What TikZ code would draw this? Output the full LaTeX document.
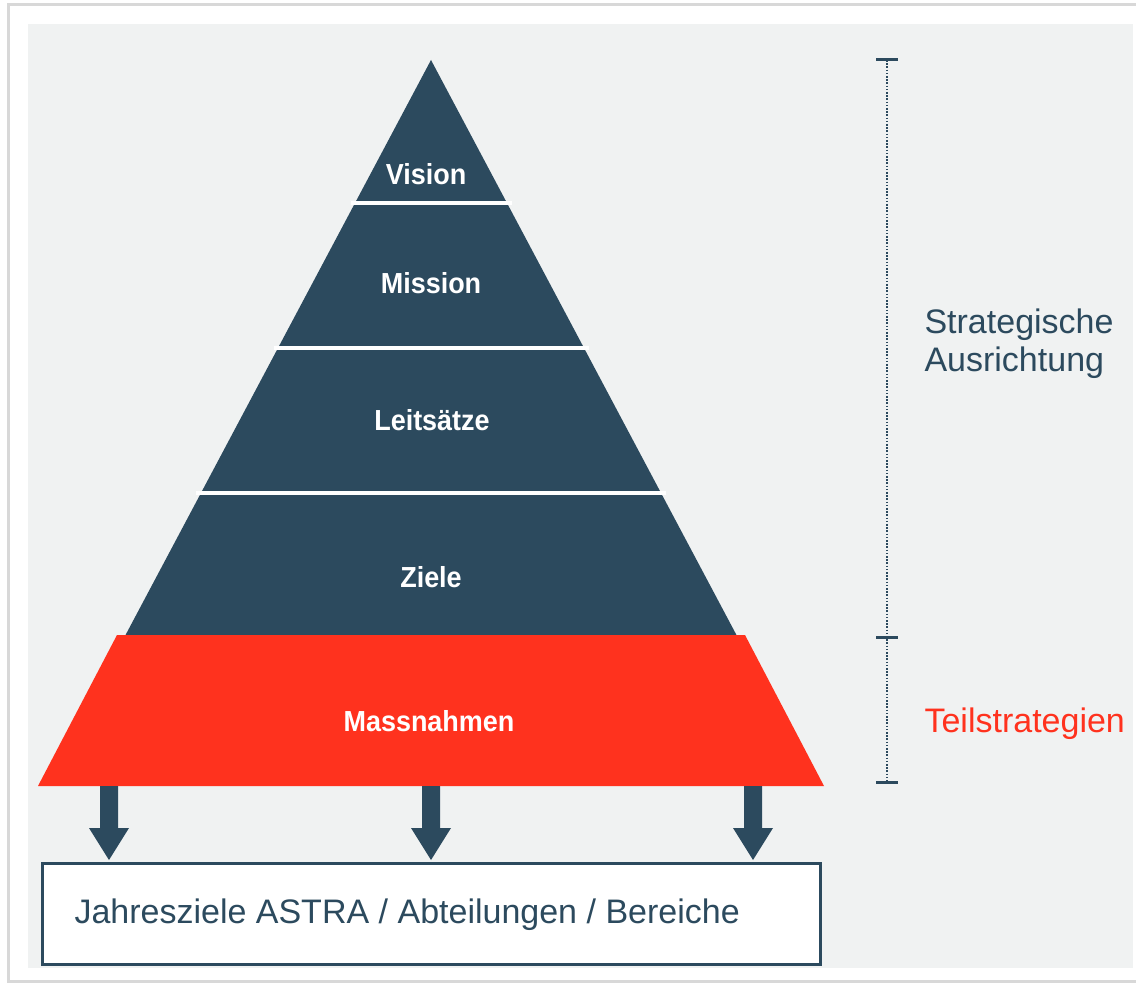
\documentclass[tikz,border=0pt]{standalone}
\usepackage{fontspec}
\setmainfont{Liberation Sans}
\newfontfamily\narrowbold[FakeStretch=0.93]{Liberation Sans Bold}
\definecolor{navy}{HTML}{2C4A5E}
\definecolor{redb}{HTML}{FF321E}
\definecolor{bggray}{HTML}{F0F2F2}
\definecolor{shadow}{HTML}{D8D8D8}
\begin{document}
\begin{tikzpicture}[x=1pt,y=-1pt,
  lvl/.style={text=white,font=\fontsize{29}{32}\narrowbold},
  side/.style={anchor=west,align=left,font=\fontsize{34}{38}\selectfont},
  sep/.style={white,line width=4pt},
  tick/.style={navy,line width=3pt},
  dotline/.style={navy,line width=2.5pt,dash pattern=on 1.6pt off 1.6pt},
  bigarrow/.style={fill=navy,draw=none}]
\useasboundingbox (0,0) rectangle (1136,984);
\fill[white] (0,0) rectangle (1136,984);
% frame with shadow
\fill[shadow] (7,3) rectangle (1136,983);
\fill[white] (10,6) rectangle (1136,980);
\fill[bggray] (28,24) rectangle (1133,968);
% pyramid
\fill[navy] (431,60) -- (737,636) -- (125,636) -- cycle;
\draw[sep] (351,203) -- (512,203);
\draw[sep] (274,348) -- (589,348);
\draw[sep] (196,493) -- (666,493);
\fill[redb] (117,635) -- (745,635) -- (824,786) -- (38,786) -- cycle;
% labels
\node[lvl] (vision) at (426,174) {Vision};
\node[lvl] (mission) at (431,283) {Mission};
\node[lvl] (leit) at (432,420) {Leitsätze};
\node[lvl] (ziele) at (431,577) {Ziele};
\node[lvl] (mass) at (429,721) {Massnahmen};
% bottom box
\draw[navy,line width=3pt,fill=white] (42,863) rectangle (820,964);
\node[anchor=west,text=navy,font=\fontsize{34}{38}\selectfont] (jahr) at (71,915) {Jahresziele ASTRA / Abteilungen / Bereiche};
% arrows
\foreach \cx in {109,431,753}{
  \fill[bigarrow] (\cx-9,786) -- (\cx+9,786) -- (\cx+9,828) -- (\cx+20,828) -- (\cx,860) -- (\cx-20,828) -- (\cx-9,828) -- cycle;
}
% bracket
\coordinate (btop) at (887,60);
\coordinate (bmid) at (887,637);
\coordinate (bbot) at (887,782);
\draw[dotline] (btop) -- (bbot);
\draw[tick] (876,60) -- (898,60);
\draw[tick] (876,637) -- (898,637);
\draw[tick] (876,782) -- (898,782);
\node[side,text=navy] (strat) at (921,344) {Strategische\\Ausrichtung};
\node[side,text=redb] (teil) at (921,724) {Teilstrategien};
\end{tikzpicture}
\end{document}
